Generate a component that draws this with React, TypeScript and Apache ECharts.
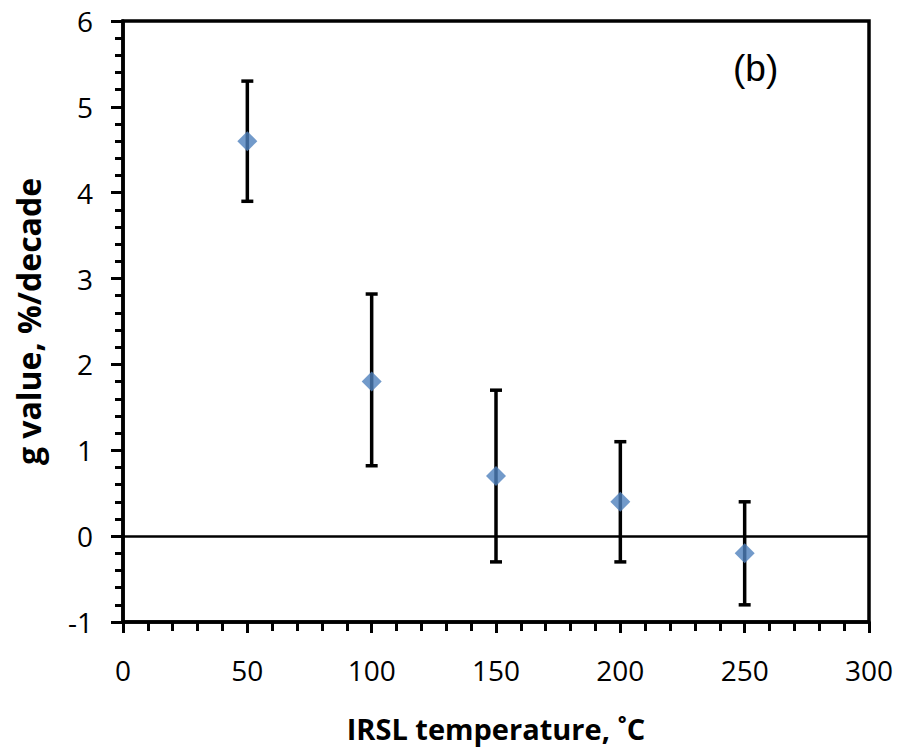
import React, { useEffect, useRef } from "react";
import * as echarts from "echarts";

const temperatures = [50, 100, 150, 200, 250];
const gValues = [4.6, 1.8, 0.7, 0.4, -0.2];
const errLow = [3.9, 0.82, -0.3, -0.3, -0.8];
const errHigh = [5.3, 2.82, 1.7, 1.1, 0.4];

const xTitle = "IRSL temperature, ˚C";
const yTitle = "g value, %/decade";
const panelLabel = "(b)";

export default function App() {
  const ref = useRef<HTMLDivElement>(null);
  useEffect(() => {
    if (!ref.current) return;
    const chart = echarts.init(ref.current, null, { renderer: "svg" });
    const font = "'Open Sans', 'Noto Sans', sans-serif";
    const points = temperatures.map((t, i) => [t, gValues[i]]);
    const bars = temperatures.map((t, i) => [t, errLow[i], errHigh[i]]);
    chart.setOption({
      animation: false,
      backgroundColor: "#ffffff",
      grid: {
        left: 123,
        right: 31,
        top: 21,
        bottom: 132,
        show: true,
        borderColor: "#000",
        borderWidth: 3.5,
        backgroundColor: "#fff",
      },
      xAxis: {
        type: "value",
        min: 0,
        max: 300,
        interval: 50,
        name: xTitle,
        nameLocation: "middle",
        nameGap: 92,
        nameTextStyle: { fontFamily: font, fontWeight: "bold", fontSize: 29, color: "#000" },
        axisLine: { show: true, onZero: false, lineStyle: { color: "#000", width: 3.5 } },
        axisTick: { show: true, inside: false, length: 11, lineStyle: { color: "#000", width: 3 } },
        minorTick: { show: true, splitNumber: 5, length: 9, lineStyle: { color: "#000", width: 3 } },
        splitLine: { show: false },
        axisLabel: { fontFamily: font, fontSize: 28, color: "#000", margin: 34 },
      },
      yAxis: {
        type: "value",
        min: -1,
        max: 6,
        interval: 1,
        name: yTitle,
        nameLocation: "middle",
        nameGap: 79,
        nameRotate: 90,
        nameTextStyle: { fontFamily: font, fontWeight: "bold", fontSize: 32, color: "#000" },
        axisLine: { show: true, onZero: false, lineStyle: { color: "#000", width: 3.5 } },
        axisTick: { show: true, inside: false, length: 12, lineStyle: { color: "#000", width: 3 } },
        minorTick: { show: true, splitNumber: 5, length: 8, lineStyle: { color: "#000", width: 3 } },
        splitLine: { show: false },
        axisLabel: { fontFamily: font, fontSize: 28, color: "#000", margin: 30 },
      },
      graphic: [
        {
          type: "text",
          left: 733,
          top: 50,
          style: {
            text: panelLabel,
            font: "37px 'Liberation Sans', Arial, sans-serif",
            fill: "#000",
          },
        },
      ],
      series: [
        {
          type: "custom",
          data: bars,
          z: 2,
          renderItem: (params: any, api: any) => {
            const x = api.value(0);
            const lo = api.coord([x, api.value(1)]);
            const hi = api.coord([x, api.value(2)]);
            const hw = 6;
            const style = { stroke: "#000", lineWidth: 3.5 };
            return {
              type: "group",
              children: [
                { type: "line", shape: { x1: lo[0], y1: lo[1], x2: hi[0], y2: hi[1] }, style },
                { type: "line", shape: { x1: lo[0] - hw, y1: lo[1], x2: lo[0] + hw, y2: lo[1] }, style },
                { type: "line", shape: { x1: hi[0] - hw, y1: hi[1], x2: hi[0] + hw, y2: hi[1] }, style },
              ],
            };
          },
        },
        {
          type: "scatter",
          data: points,
          symbol: "diamond",
          symbolSize: [20, 20],
          z: 3,
          itemStyle: { color: "#4f81bd" },
          markLine: {
            silent: true,
            symbol: "none",
            label: { show: false },
            lineStyle: { color: "#000", width: 2.5, type: "solid" },
            data: [{ yAxis: 0 }],
          },
        },
      ],
    });
    return () => chart.dispose();
  }, []);
  return (
    <div
      ref={ref}
      style={{ position: "absolute", left: 0, top: 0, width: 900, height: 754 }}
    />
  );
}
